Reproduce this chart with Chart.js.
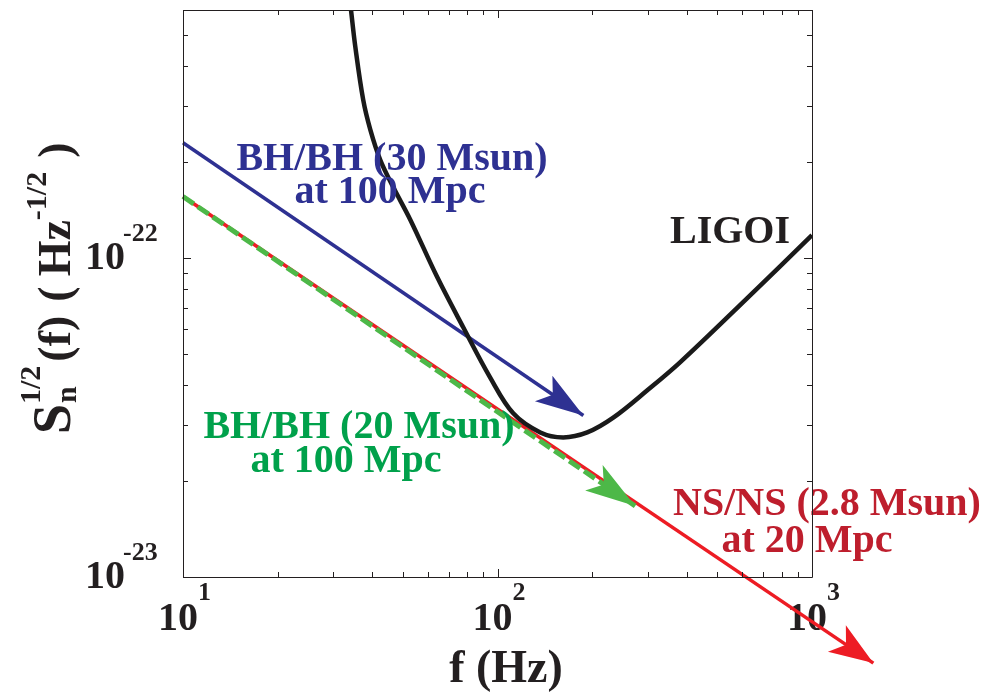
<!DOCTYPE html>
<html>
<head>
<meta charset="utf-8">
<script src="https://cdn.jsdelivr.net/npm/chart.js@4.4.1/dist/chart.umd.min.js"></script>
<style>
  html, body { margin: 0; padding: 0; background: #fff; }
  canvas { display: block; }
</style>
</head>
<body>
<canvas id="noise-chart" width="999" height="693"></canvas>
<script>
// LIGO I noise curve
var ligoFreq  = [34.2, 35.3, 37.4, 39.4, 42.4, 46.6, 52.8, 64.3, 77.8, 94.8, 112.2, 136.8, 161.8, 192.9, 233.4, 299.5, 381.3, 621.5, 1000];
var ligoNoise = [6.02e-22, 4.61e-22, 3.14e-22, 2.53e-22, 2.03e-22, 1.67e-22, 1.32e-22, 8.72e-23, 6.07e-23, 4.22e-23, 3.26e-23, 2.84e-23, 2.74e-23, 2.84e-23, 3.16e-23, 3.85e-23, 4.72e-23, 7.48e-23, 1.18e-22];

// inspiral tracks (start, arrow tip)
var bh30Freq = [10, 187.5];
var bh30Amp  = [2.30e-22, 3.21e-23];
var bh20Freq = [10, 274];
var bh20Amp  = [1.56e-22, 1.67e-23];
var nsFreq   = [10, 1567];
var nsAmp    = [1.56e-22, 5.37e-24];

// axis ticks
var xMajor = [10, 100, 1000];
var xExps  = ['1', '2', '3'];
var yMajor = [1e-23, 1e-22];
var yExps  = ['-23', '-22'];

var SERIF = '"Liberation Serif", "Times New Roman", serif';

function pts(xs, ys) {
  return xs.map(function (x, i) { return { x: x, y: ys[i] }; });
}

// text labels in the plot
var notes = [
  { lines: ['BH/BH (30 Msun)', 'at 100 Mpc'], color: '#2e3192', pos: [[392, 170], [390, 203]] },
  { lines: ['BH/BH (20 Msun)', 'at 100 Mpc'], color: '#00a14b', pos: [[359, 438], [346, 472]] },
  { lines: ['NS/NS (2.8 Msun)', 'at 20 Mpc'], color: '#be1e2d', pos: [[827, 515], [807, 552]] },
  { lines: ['LIGOI'], color: '#231f20', pos: [[730, 243]] }
];

function drawArrowHead(ctx, meta, color, len, half, notch) {
  var n = meta.data.length;
  var tip = meta.data[n - 1], prev = meta.data[n - 2];
  var dx = tip.x - prev.x, dy = tip.y - prev.y;
  var d = Math.sqrt(dx * dx + dy * dy);
  dx /= d; dy /= d;
  var px = -dy, py = dx;
  ctx.beginPath();
  ctx.moveTo(tip.x, tip.y);
  ctx.lineTo(tip.x - dx * len + px * half, tip.y - dy * len + py * half);
  ctx.lineTo(tip.x - dx * notch, tip.y - dy * notch);
  ctx.lineTo(tip.x - dx * len - px * half, tip.y - dy * len - py * half);
  ctx.closePath();
  ctx.fillStyle = color;
  ctx.fill();
}

var decor = {
  id: 'decor',
  beforeDatasetsDraw: function (chart) {
    var ctx = chart.ctx, xs = chart.scales.x, ys = chart.scales.y;
    ctx.save();
    ctx.fillStyle = '#231f20';
    ctx.textBaseline = 'alphabetic';

    // x tick labels 10^n
    xMajor.forEach(function (v, i) {
      var px = xs.getPixelForValue(v);
      ctx.font = 'bold 40px ' + SERIF;
      ctx.textAlign = 'right';
      ctx.fillText('10', px + 15, 630);
      ctx.font = 'bold 26px ' + SERIF;
      ctx.textAlign = 'left';
      ctx.fillText(xExps[i], px + 15, 600);
    });
    // y tick labels
    yMajor.forEach(function (v, i) {
      var py = ys.getPixelForValue(v);
      ctx.font = 'bold 40px ' + SERIF;
      ctx.textAlign = 'right';
      ctx.fillText('10', 125, py + 11);
      ctx.font = 'bold 26px ' + SERIF;
      ctx.textAlign = 'left';
      ctx.fillText(yExps[i], 123, py - 17);
    });

    // x title
    ctx.font = 'bold 46px ' + SERIF;
    ctx.textAlign = 'center';
    ctx.fillText('f (Hz)', 506, 682);

    // y title, rotated
    ctx.save();
    ctx.translate(70, 434);
    ctx.rotate(-Math.PI / 2);
    ctx.textAlign = 'left';
    var x = 0;
    ctx.font = 'bold 54px ' + SERIF;
    ctx.fillText('S', x, 0);
    x += ctx.measureText('S').width;
    ctx.font = 'bold 30px ' + SERIF;
    ctx.fillText('n', x + 1, 6);
    ctx.fillText('1/2', x, -30);
    x += ctx.measureText('1/2').width + 4;
    ctx.font = 'bold 46px ' + SERIF;
    ctx.fillText('(f)', x, 0);
    x += ctx.measureText('(f)').width + 14;
    ctx.fillText('(', x, 0);
    x += ctx.measureText('(').width + 10;
    ctx.fillText('Hz', x, 0);
    x += ctx.measureText('Hz').width;
    ctx.font = 'bold 30px ' + SERIF;
    ctx.fillText('-1/2', x, -24);
    x += ctx.measureText('-1/2').width + 14;
    ctx.font = 'bold 46px ' + SERIF;
    ctx.fillText(')', x, 0);
    ctx.restore();

    ctx.restore();
  },
  afterDatasetsDraw: function (chart) {
    var ctx = chart.ctx, xs = chart.scales.x, ys = chart.scales.y, a = chart.chartArea;
    ctx.save();
    drawArrowHead(ctx, chart.getDatasetMeta(1), '#2e3192', 48, 15.5, 37);
    drawArrowHead(ctx, chart.getDatasetMeta(2), '#4db848', 50, 15.5, 38);
    drawArrowHead(ctx, chart.getDatasetMeta(3), '#ed1c24', 44, 16, 33);

    notes.forEach(function (nt) {
      ctx.fillStyle = nt.color;
      ctx.font = 'bold 40px ' + SERIF;
      ctx.textAlign = 'center';
      nt.lines.forEach(function (t, i) {
        ctx.fillText(t, nt.pos[i][0], nt.pos[i][1]);
      });
    });

    // frame with inward ticks on all sides
    ctx.strokeStyle = '#231f20';
    ctx.lineWidth = 1;
    ctx.beginPath();
    ctx.rect(a.left + 0.5, a.top + 0.5, a.right - a.left, a.bottom - a.top);
    ctx.stroke();
    ctx.beginPath();
    var dec, m, v, p, len;
    for (dec = 1; dec <= 100; dec *= 10) {
      for (m = 1; m <= 9; m++) {
        v = dec * 10 * m;
        if (v > 1000) break;
        p = Math.round(xs.getPixelForValue(v)) + 0.5;
        len = m === 1 ? 8 : 5;
        ctx.moveTo(p, a.bottom); ctx.lineTo(p, a.bottom - len);
        ctx.moveTo(p, a.top); ctx.lineTo(p, a.top + len);
      }
    }
    for (dec = 1e-23; dec < 1e-21; dec *= 10) {
      for (m = 1; m <= 9; m++) {
        v = dec * m;
        if (v > 6.01e-22) break;
        p = Math.round(ys.getPixelForValue(v)) + 0.5;
        len = m === 1 ? 8 : 5;
        ctx.moveTo(a.left, p); ctx.lineTo(a.left + len, p);
        ctx.moveTo(a.right, p); ctx.lineTo(a.right - len, p);
      }
    }
    ctx.stroke();
    ctx.restore();
  }
};

new Chart(document.getElementById('noise-chart').getContext('2d'), {
  type: 'line',
  data: {
    datasets: [
      { label: 'LIGOI', data: pts(ligoFreq, ligoNoise), borderColor: '#1a1a1a', borderWidth: 4.5,
        tension: 0.35, pointRadius: 0, order: 0 },
      { label: 'BH/BH 30', data: pts(bh30Freq, bh30Amp), borderColor: '#2e3192', borderWidth: 3.5,
        pointRadius: 0, order: 1, clip: false },
      { label: 'BH/BH 20', data: pts(bh20Freq, bh20Amp), borderColor: '#4db848', borderWidth: 5,
        borderDash: [13, 5], pointRadius: 0, order: 2, clip: false },
      { label: 'NS/NS', data: pts(nsFreq, nsAmp), borderColor: '#ed1c24', borderWidth: 3.5,
        pointRadius: 0, order: 3, clip: false }
    ]
  },
  options: {
    responsive: false,
    animation: false,
    devicePixelRatio: 1,
    layout: { padding: { left: 183, right: 187, top: 10, bottom: 116 } },
    scales: {
      x: { type: 'logarithmic', min: 10, max: 1000, display: false },
      y: { type: 'logarithmic', min: 1e-23, max: 6e-22, display: false }
    },
    plugins: { legend: { display: false }, tooltip: { enabled: false } }
  },
  plugins: [decor]
});
</script>
</body>
</html>
